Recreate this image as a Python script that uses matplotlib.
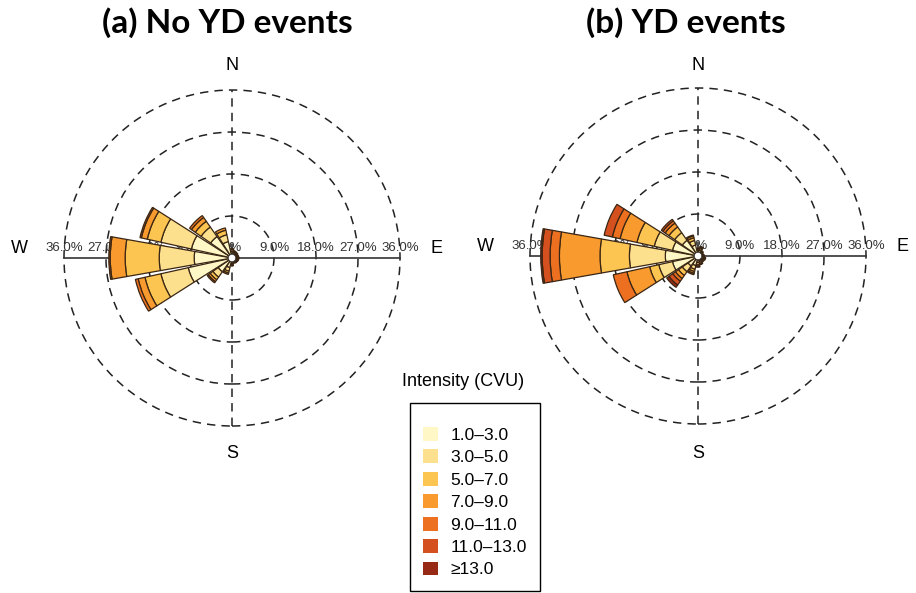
import matplotlib.pyplot as plt
from matplotlib.patches import Wedge, Circle, Patch
import numpy as np

# compass directions (deg clockwise from north) and intensity classes
directions = np.arange(0, 360, 22.5)
classes = ['1.0–3.0', '3.0–5.0', '5.0–7.0', '7.0–9.0', '9.0–11.0', '11.0–13.0', '≥13.0']
colors = ['#FFF8C6', '#FDE08E', '#FCC450', '#F99A2E', '#EC7020', '#D4501E', '#962A14']

# frequency (%) per direction (rows, N clockwise) and intensity class (columns)
no_yd = [
    [0.8, 0.4, 0.2, 0, 0, 0, 0],      # N
    [0.6, 0.3, 0.1, 0, 0, 0, 0],      # NNE
    [0.5, 0.3, 0.1, 0, 0, 0, 0],      # NE
    [0.5, 0.2, 0.1, 0, 0, 0, 0],      # ENE
    [0.5, 0.3, 0.1, 0, 0, 0, 0],      # E
    [0.5, 0.2, 0.1, 0, 0, 0, 0],      # ESE
    [0.4, 0.2, 0.1, 0, 0, 0, 0],      # SE
    [0.4, 0.2, 0, 0, 0, 0, 0],        # SSE
    [0.6, 0.3, 0.2, 0, 0, 0, 0],      # S
    [1.5, 0.8, 0.4, 0.3, 0, 0, 0],    # SSW
    [3.0, 1.4, 0.7, 0.5, 0.3, 0, 0],  # SW
    [9.0, 6.0, 3.5, 1.5, 0.6, 0, 0],  # WSW
    [7.5, 7.5, 7.3, 3.2, 0.3, 0, 0],  # W
    [8.3, 6.7, 3.0, 1.3, 0.3, 0, 0],  # WNW
    [5.0, 2.5, 1.5, 1.0, 0.5, 0, 0],  # NW
    [3.0, 1.5, 1.0, 0.5, 0, 0, 0],    # NNW
]

yd = [
    [0.6, 0.3, 0.2, 0, 0, 0, 0],          # N
    [0.8, 0.4, 0.2, 0.1, 0, 0, 0],        # NNE
    [0.5, 0.3, 0, 0, 0, 0, 0],            # NE
    [0.4, 0.2, 0, 0, 0, 0, 0],            # ENE
    [0.5, 0.3, 0, 0, 0, 0, 0],            # E
    [0.6, 0.3, 0.2, 0, 0, 0, 0],          # ESE
    [0.5, 0.3, 0.2, 0, 0, 0, 0],          # SE
    [0.6, 0.4, 0.2, 0.1, 0, 0, 0],        # SSE
    [0.8, 0.5, 0.3, 0.2, 0, 0, 0],        # S
    [1.5, 0.8, 0.5, 0.4, 0.3, 0, 0],      # SSW
    [2.0, 1.5, 1.0, 0.8, 0.7, 1.0, 0.6],  # SW
    [5.0, 3.0, 2.0, 5.0, 3.0, 0, 0],      # WSW
    [6.4, 7.7, 6.3, 8.7, 2.0, 1.7, 0.3],  # W
    [5.0, 4.0, 3.8, 3.7, 1.7, 1.8, 0],    # WNW
    [3.5, 2.0, 1.5, 1.0, 0.6, 0.4, 0],    # NW
    [1.8, 1.0, 0.6, 0.4, 0.2, 0, 0],      # NNW
]

rings = [9, 18, 27, 36]
titles = ['(a) No YD events', '(b) YD events']
title_x = [227, 686]

fig = plt.figure(figsize=(9.16, 5.93), dpi=100)

scale = 168 / 36.0      # px per percent
half = 225              # axes half size in px
centers = [(232, 258), (698, 256)]
lab_font = 'Liberation Sans'
dash = (0, (5.5, 4))


def draw_rose(ax, freq):
    for r in rings:
        ax.add_patch(Circle((0, 0), r, fill=False, ec='#222222', lw=1.1,
                            ls=dash, zorder=1))
    ax.plot([0, 0], [-36, 36], color='#222222', lw=1.1, ls=dash, zorder=1)
    ax.plot([-36, 36], [0, 0], color='#333333', lw=1.2, zorder=1)
    ax.text(0, 2.2, '0%', ha='center', va='center', fontsize=9.5,
            family=lab_font, color='#333333', zorder=1.5)
    for r in rings:
        for s in (-1, 1):
            ax.text(s * r, 2.2, '%.1f%%' % r, ha='center', va='center', fontsize=9.5,
                    family=lab_font, color='#333333', zorder=1.5)

    r0 = 0.6
    for d, row in zip(directions, freq):
        a = 90 - d
        inner = r0
        for val, c in zip(row, colors):
            if val <= 0:
                continue
            outer = inner + val
            ax.add_patch(Wedge((0, 0), outer, a - 10, a + 10, width=val,
                               fc=c, ec='#3a2614', lw=0.9, zorder=2))
            inner = outer
    ax.add_patch(Circle((0, 0), r0 + 0.2, fc='white', ec='#333333', lw=0.6, zorder=3))


for (cx, cy), freq, title, tx in zip(centers, [no_yd, yd], titles, title_x):
    ax = fig.add_axes([(cx - half) / 916, (593 - cy - half) / 593,
                       2 * half / 916, 2 * half / 593])
    lim = half / scale
    ax.set_xlim(-lim, lim)
    ax.set_ylim(-lim, lim)
    ax.axis('off')
    draw_rose(ax, freq)

    ax.text(0, (cy - 65) / scale, 'N', ha='center', va='center', fontsize=13, family=lab_font)
    ax.text(0, -(453 - cy) / scale, 'S', ha='center', va='center', fontsize=13, family=lab_font)
    ax.text(-213 / scale, 2.1, 'W', ha='center', va='center', fontsize=13, family=lab_font)
    ax.text(205 / scale, 2.1, 'E', ha='center', va='center', fontsize=13, family=lab_font)

    fig.text(tx / 916, 1 - 23 / 593, title, ha='center', va='center',
             fontsize=24, fontweight='bold', family='Lato')

handles = [Patch(fc=c, ec='none') for c in colors]
fig.legend(handles, classes, loc='upper left', bbox_to_anchor=(410 / 916, 1 - 403 / 593),
           frameon=True, fancybox=False, edgecolor='black', framealpha=1,
           prop={'family': lab_font, 'size': 12.5}, handlelength=0.87, handleheight=0.85,
           handletextpad=0.68, labelspacing=0.375, borderpad=0.77, borderaxespad=0,
           title=' ', title_fontsize=3)
fig.text(463 / 916, 1 - 382 / 593, 'Intensity (CVU)', ha='center', va='center',
         fontsize=13, family=lab_font)

fig.savefig('out.png', dpi=100)
